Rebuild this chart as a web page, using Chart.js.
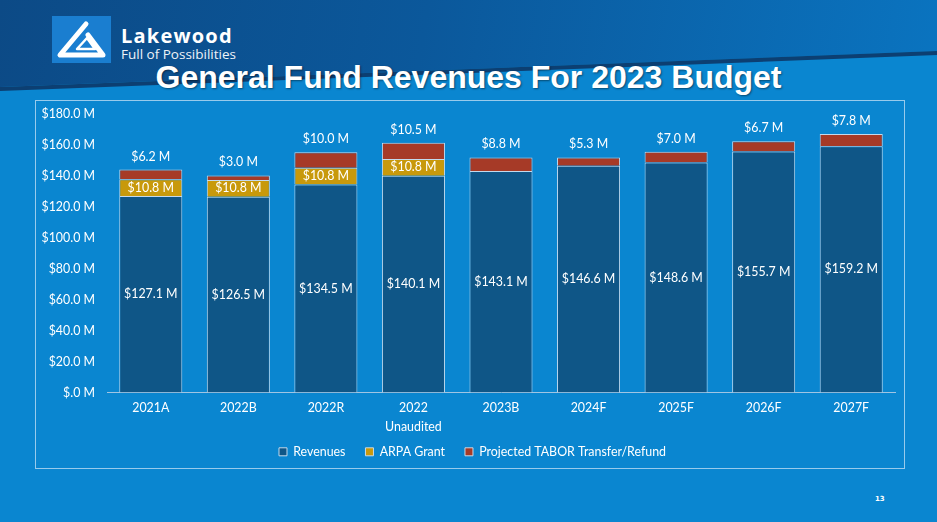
<!DOCTYPE html>
<html>
<head>
<meta charset="utf-8">
<script src="https://cdn.jsdelivr.net/npm/chart.js@4/dist/chart.umd.min.js"></script>
<style>
  html, body { margin:0; padding:0; }
  body { width:937px; height:522px; position:relative; overflow:hidden;
    background:#0a86d0; font-family: Lato, "Open Sans", sans-serif; }
  #header { position:absolute; left:0; top:0; width:937px; height:95px;
    background: linear-gradient(100deg, #0c4a86 0%, #0b589b 45%, #0a74c0 100%);
    clip-path: polygon(0 0, 100% 0, 100% 51px, 0 87px); }
  #hline { position:absolute; left:0; top:0; width:937px; height:95px;
    background:#0c3f72;
    clip-path: polygon(0 87px, 100% 51px, 100% 55px, 0 91px); }
  #logoBox { position:absolute; left:52px; top:16px; width:59px; height:47px; background:#1a7ed0; }
  #lake { position:absolute; left:121px; top:25px; color:#fff; font-family:"Open Sans", sans-serif;
    font-weight:700; font-size:20px; letter-spacing:1.2px; line-height:22px; }
  #full { position:absolute; left:121px; top:46px; color:#eef3f8; font-family:"Open Sans", sans-serif;
    font-weight:400; font-size:13.5px; line-height:16px; }
  #title { position:absolute; left:0; width:937px; top:58px; text-align:center; color:#fff;
    font-family:"Liberation Sans", Arial, sans-serif; font-weight:700; font-size:32px; line-height:38px;
    text-shadow: 1px 1px 2px rgba(0,0,0,0.45); }
  #box { position:absolute; left:35px; top:100px; width:868px; height:367px;
    border:1px solid rgba(200,225,245,0.75); }
  #wrap { position:absolute; left:36px; top:101px; width:868px; height:367px; }
  #pg { position:absolute; left:875px; top:495px; color:#fff; font-family:"DejaVu Sans", sans-serif;
    font-size:7px; font-weight:700; }
</style>
</head>
<body>
<div id="header"></div>
<div id="hline"></div>
<div id="logoBox">
  <svg width="59" height="47" viewBox="0 0 59 47">
    <path d="M34 8 L8 39 L51 39 L36 19" fill="none" stroke="#fff" stroke-width="5" stroke-linejoin="round" stroke-linecap="round"/>
    <path d="M25 33 L35 22 L43 33 Z" fill="none" stroke="#fff" stroke-width="2.5" stroke-linejoin="round"/>
  </svg>
</div>
<div id="lake">Lakewood</div>
<div id="full">Full of Possibilities</div>
<div id="title">General Fund Revenues For 2023 Budget</div>
<div id="box"></div>
<div id="wrap"><canvas id="c" width="868" height="367"></canvas></div>
<div id="pg">13</div>
<script>
const categories = ['2021A', '2022B', '2022R', ['2022', 'Unaudited'], '2023B', '2024F', '2025F', '2026F', '2027F'];
const revenues = [127.1, 126.5, 134.5, 140.1, 143.1, 146.6, 148.6, 155.7, 159.2];
const arpaGrant = [10.8, 10.8, 10.8, 10.8, null, null, null, null, null];
const taborRefund = [6.2, 3.0, 10.0, 10.5, 8.8, 5.3, 7.0, 6.7, 7.8];
const yTickLabels = ['$.0 M', '$20.0 M', '$40.0 M', '$60.0 M', '$80.0 M', '$100.0 M', '$120.0 M', '$140.0 M', '$160.0 M', '$180.0 M'];

const FONT = 'Lato, "Open Sans", sans-serif';
const FS = 12.4;

const labelPlugin = {
  id: 'barLabels',
  afterUpdate(chart) {
    // let the two-line category label draw below the (short) axis box
    chart.scales.x._computeLabelArea = () => undefined;
  },
  afterLayout(chart) {
    if (chart.legend) { chart.legend.left += 7; chart.legend.right += 7; }
  },
  afterDatasetsDraw(chart) {
    const ctx = chart.ctx;
    ctx.save();
    ctx.font = FS + 'px ' + FONT;
    ctx.fillStyle = '#ffffff';
    ctx.textAlign = 'center';
    ctx.textBaseline = 'middle';
    chart.data.datasets.forEach((ds, di) => {
      const meta = chart.getDatasetMeta(di);
      meta.data.forEach((el, i) => {
        const v = ds.data[i];
        if (v === null || v === undefined) return;
        const txt = '$' + v.toFixed(1) + ' M';
        if (di === 2) {
          ctx.fillText(txt, el.x, el.y - 13);
        } else {
          ctx.fillText(txt, el.x, (el.y + el.base) / 2);
        }
      });
    });
    ctx.restore();
  }
};

const border = 'rgba(205,222,238,0.95)';
new Chart(document.getElementById('c'), {
  type: 'bar',
  data: {
    labels: categories,
    datasets: [
      { label: 'Revenues', data: revenues, backgroundColor: '#0f5687', borderColor: border, borderWidth: 1 },
      { label: 'ARPA Grant', data: arpaGrant, backgroundColor: '#c8990b', borderColor: border, borderWidth: 1 },
      { label: 'Projected TABOR Transfer/Refund', data: taborRefund, backgroundColor: '#a63a27', borderColor: border, borderWidth: 1 }
    ]
  },
  options: {
    responsive: false,
    animation: false,
    devicePixelRatio: 1,
    layout: { padding: { top: 13, right: 9, left: 0, bottom: 0 } },
    datasets: { bar: { barPercentage: 0.72, categoryPercentage: 1.0 } },
    scales: {
      x: {
        stacked: true,
        grid: { display: false, drawTicks: false },
        border: { display: true, color: 'rgba(170,200,228,0.95)', width: 1 },
        ticks: { color: '#fff', font: { family: FONT, size: FS, lineHeight: 1.5 }, padding: 6, maxRotation: 0, autoSkip: false },
        afterFit(s) { s.height = 33; }
      },
      y: {
        stacked: true,
        min: 0, max: 180,
        grid: { display: false, drawTicks: false },
        border: { display: false },
        ticks: { stepSize: 20, color: '#fff', font: { family: FONT, size: FS }, padding: 12,
          callback: (v, i) => yTickLabels[i] },
        afterFit(s) { s.width = 71; s.paddingTop = 0; s.paddingBottom = 0; }
      }
    },
    plugins: {
      legend: {
        position: 'bottom',
        labels: { color: '#fff', font: { family: FONT, size: FS }, boxWidth: 8, boxHeight: 8, padding: 20 }
      },
      tooltip: { enabled: false }
    }
  },
  plugins: [labelPlugin]
});
</script>
</body>
</html>
